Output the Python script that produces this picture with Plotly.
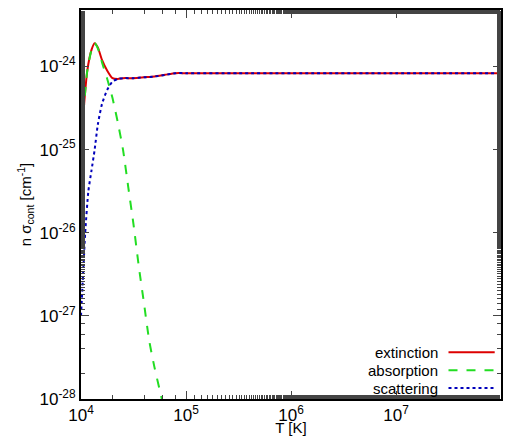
import plotly.graph_objects as go

logT_abs = [4.0, 4.03, 4.06, 4.1, 4.13, 4.16, 4.2, 4.25, 4.3, 4.35, 4.4, 4.45, 4.5, 4.55, 4.6, 4.65, 4.7, 4.77]
logy_abs = [-25.0, -24.45, -24.05, -23.8, -23.72, -23.78, -23.95, -24.15, -24.38, -24.67, -25.0, -25.45, -25.9, -26.4, -26.85, -27.3, -27.62, -28.0]

logT_sca = [4.0, 4.02, 4.04, 4.07, 4.1, 4.13, 4.16, 4.2, 4.25, 4.3, 4.35, 4.4, 4.5, 4.6, 4.7, 4.8, 4.9, 5.0, 5.5, 6.0, 7.0, 8.0]
logy_sca = [-27.0, -26.5, -26.0, -25.5, -25.25, -25.0, -24.7, -24.45, -24.28, -24.18, -24.15, -24.14, -24.14, -24.13, -24.12, -24.1, -24.08, -24.08, -24.08, -24.08, -24.08, -24.08]

logT_ext = [4.0, 4.03, 4.06, 4.1, 4.13, 4.16, 4.2, 4.25, 4.3, 4.35, 4.4, 4.5, 4.6, 4.7, 4.8, 4.9, 5.0, 5.5, 6.0, 7.0, 8.0]
logy_ext = [-25.0, -24.45, -24.05, -23.8, -23.72, -23.77, -23.92, -24.05, -24.14, -24.15, -24.14, -24.14, -24.13, -24.12, -24.1, -24.08, -24.08, -24.08, -24.08, -24.08, -24.08]

series = [
    ("extinction", logT_ext, logy_ext, "#dd0000", "solid"),
    ("absorption", logT_abs, logy_abs, "#22dd22", "dash"),
    ("scattering", logT_sca, logy_sca, "#0000bb", "dot"),
]

fig = go.Figure()
for name, lx, ly, c, d in series:
    fig.add_trace(go.Scatter(x=[10**v for v in lx], y=[10**v for v in ly], mode="lines",
                             name=name, line=dict(color=c, dash=d, width=2, shape="spline", smoothing=0.6)))

xt = [4, 5, 6, 7, 8]
yt = [-28, -27, -26, -25, -24]
fnt = dict(family="Liberation Sans, Arial", size=17, color="black")
fig.update_layout(
    width=504, height=428, margin=dict(l=73, r=11, t=0, b=36),
    plot_bgcolor="white", paper_bgcolor="white", showlegend=False, font=fnt,
    xaxis=dict(type="log", range=[4, 8], tickvals=[10**v for v in xt],
               ticktext=[f"10<sup>{v}</sup>" for v in xt], ticks="inside", ticklen=8,
               mirror="allticks", showline=True, linecolor="black", linewidth=2,
               showgrid=False, title=dict(text="T [K]", standoff=0, font=dict(size=15)),
               minor=dict(ticks="inside", ticklen=4, showgrid=False)),
    yaxis=dict(type="log", range=[-28, -23.32], tickvals=[10**v for v in yt],
               ticktext=[f"10<sup>{v}</sup>" for v in yt], ticks="inside", ticklen=8,
               mirror="allticks", showline=True, linecolor="black", linewidth=2,
               showgrid=False, title=dict(text="n σ<sub>cont</sub> [cm<sup>-1</sup>]", standoff=4, font=dict(size=15)),
               minor=dict(ticks="inside", ticklen=4, showgrid=False)),
)

for i, (name, lx, ly, c, d) in enumerate(series):
    yp = 0.12 - i * 0.046
    fig.add_annotation(xref="paper", yref="paper", x=0.855, y=yp, text=name, showarrow=False,
                       xanchor="right", yanchor="middle", font=dict(size=15))
    fig.add_shape(type="line", xref="paper", yref="paper", x0=0.875, x1=0.985, y0=yp, y1=yp,
                  line=dict(color=c, dash=d, width=2))

fig.write_html("out.html")
